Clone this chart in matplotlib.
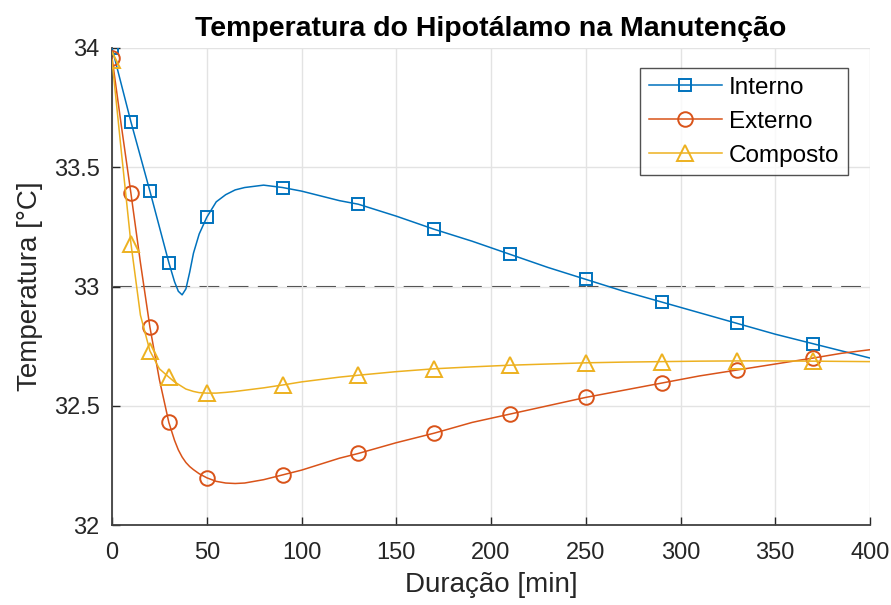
import matplotlib
matplotlib.use("Agg")
import matplotlib.pyplot as plt
import numpy as np

plt.rcParams['font.family'] = ['Liberation Sans', 'DejaVu Sans']

# curve trace (min)
tempo = [0, 5, 10, 15, 20, 25, 30, 33, 35, 37, 39, 41, 43, 46, 50, 55, 60, 65, 70, 80, 90,
         100, 110, 120, 130, 150, 170, 190, 210, 230, 250, 270, 290, 310, 330, 350, 370, 385, 400]
interno = [34.00, 33.845, 33.69, 33.545, 33.40, 33.25, 33.10, 33.02, 32.98, 32.965, 32.99, 33.06,
           33.14, 33.22, 33.29, 33.355, 33.385, 33.405, 33.415, 33.425, 33.415,
           33.40, 33.38, 33.36, 33.345, 33.295, 33.24, 33.19, 33.135, 33.08, 33.03, 32.98,
           32.935, 32.89, 32.845, 32.80, 32.76, 32.73, 32.70]
externo = [33.96, 33.67, 33.39, 33.10, 32.83, 32.61, 32.43, 32.355, 32.315, 32.285, 32.262, 32.245,
           32.232, 32.215, 32.198, 32.183, 32.176, 32.174, 32.176, 32.19, 32.21,
           32.23, 32.255, 32.28, 32.30, 32.345, 32.385, 32.43, 32.465, 32.50, 32.535, 32.565,
           32.595, 32.625, 32.65, 32.675, 32.70, 32.72, 32.735]
composto = [33.95, 33.56, 33.18, 32.88, 32.73, 32.655, 32.62, 32.60, 32.59, 32.58, 32.57, 32.565,
            32.56, 32.555, 32.553, 32.553, 32.556, 32.56, 32.565, 32.575, 32.587,
            32.60, 32.61, 32.62, 32.628, 32.643, 32.655, 32.663, 32.67, 32.675, 32.68, 32.683,
            32.685, 32.687, 32.688, 32.688, 32.687, 32.686, 32.685]
# sample times with markers
tempo_marcas = [0, 10, 20, 30, 50, 90, 130, 170, 210, 250, 290, 330, 370]
limite = 33

idx = [tempo.index(t) for t in tempo_marcas]

fig = plt.figure(figsize=(8.91, 6.05), dpi=100)
ax = fig.add_axes([112/891, 1-525/605, 758/891, 477/605])

ax.grid(True, color='#e3e3e3', linewidth=1.0, zorder=0)
ax.plot([0, 400], [limite, limite], color='#333333', linewidth=1.5, dashes=(9.5, 4.5),
        solid_capstyle='butt', zorder=1)

ax.plot(tempo, interno, color='#0072BD', lw=1.1, marker='s', ms=8.5, mfc='none', mew=1.4,
        markevery=idx, label='Interno', zorder=3)
ax.plot(tempo, externo, color='#D95319', lw=1.1, marker='o', ms=10.5, mfc='none', mew=1.4,
        markevery=idx, label='Externo', zorder=3)
ax.plot(tempo, composto, color='#EDB120', lw=1.1, marker='^', ms=11.5, mfc='none', mew=1.4,
        markevery=idx, label='Composto', zorder=3)

ax.set_xlim(0, 400)
ax.set_ylim(32, 34)
ax.set_xticks(np.arange(0, 401, 50))
ax.set_yticks([32, 32.5, 33, 33.5, 34])
ax.set_yticklabels(['32', '32.5', '33', '33.5', '34'])
ax.tick_params(direction='in', labelsize=17, colors='#262626', length=6, width=1)
ax.tick_params(axis='x', pad=12)
ax.tick_params(axis='y', pad=9)
for s in ['top', 'right']:
    ax.spines[s].set_visible(False)
for s in ['left', 'bottom']:
    ax.spines[s].set_color('#404040')
    ax.spines[s].set_linewidth(1.3)

ax.set_xlabel('Duração [min]', fontsize=20, color='#262626', labelpad=6)
ax.set_ylabel('Temperatura [°C]', fontsize=20, color='#262626', labelpad=8)
ax.set_title('Temperatura do Hipotálamo na Manutenção', fontsize=20.5, fontweight='bold', pad=9)

leg = ax.legend(loc='upper right', bbox_to_anchor=(848/891, 1-68/605), bbox_transform=fig.transFigure,
                fontsize=17.5, frameon=True, fancybox=False, handlelength=3.0, borderpad=0.35,
                labelspacing=0.5, handletextpad=0.3, borderaxespad=0)
leg.get_frame().set_edgecolor('#262626')
leg.get_frame().set_linewidth(1.0)

fig.savefig('out.png', dpi=100)
